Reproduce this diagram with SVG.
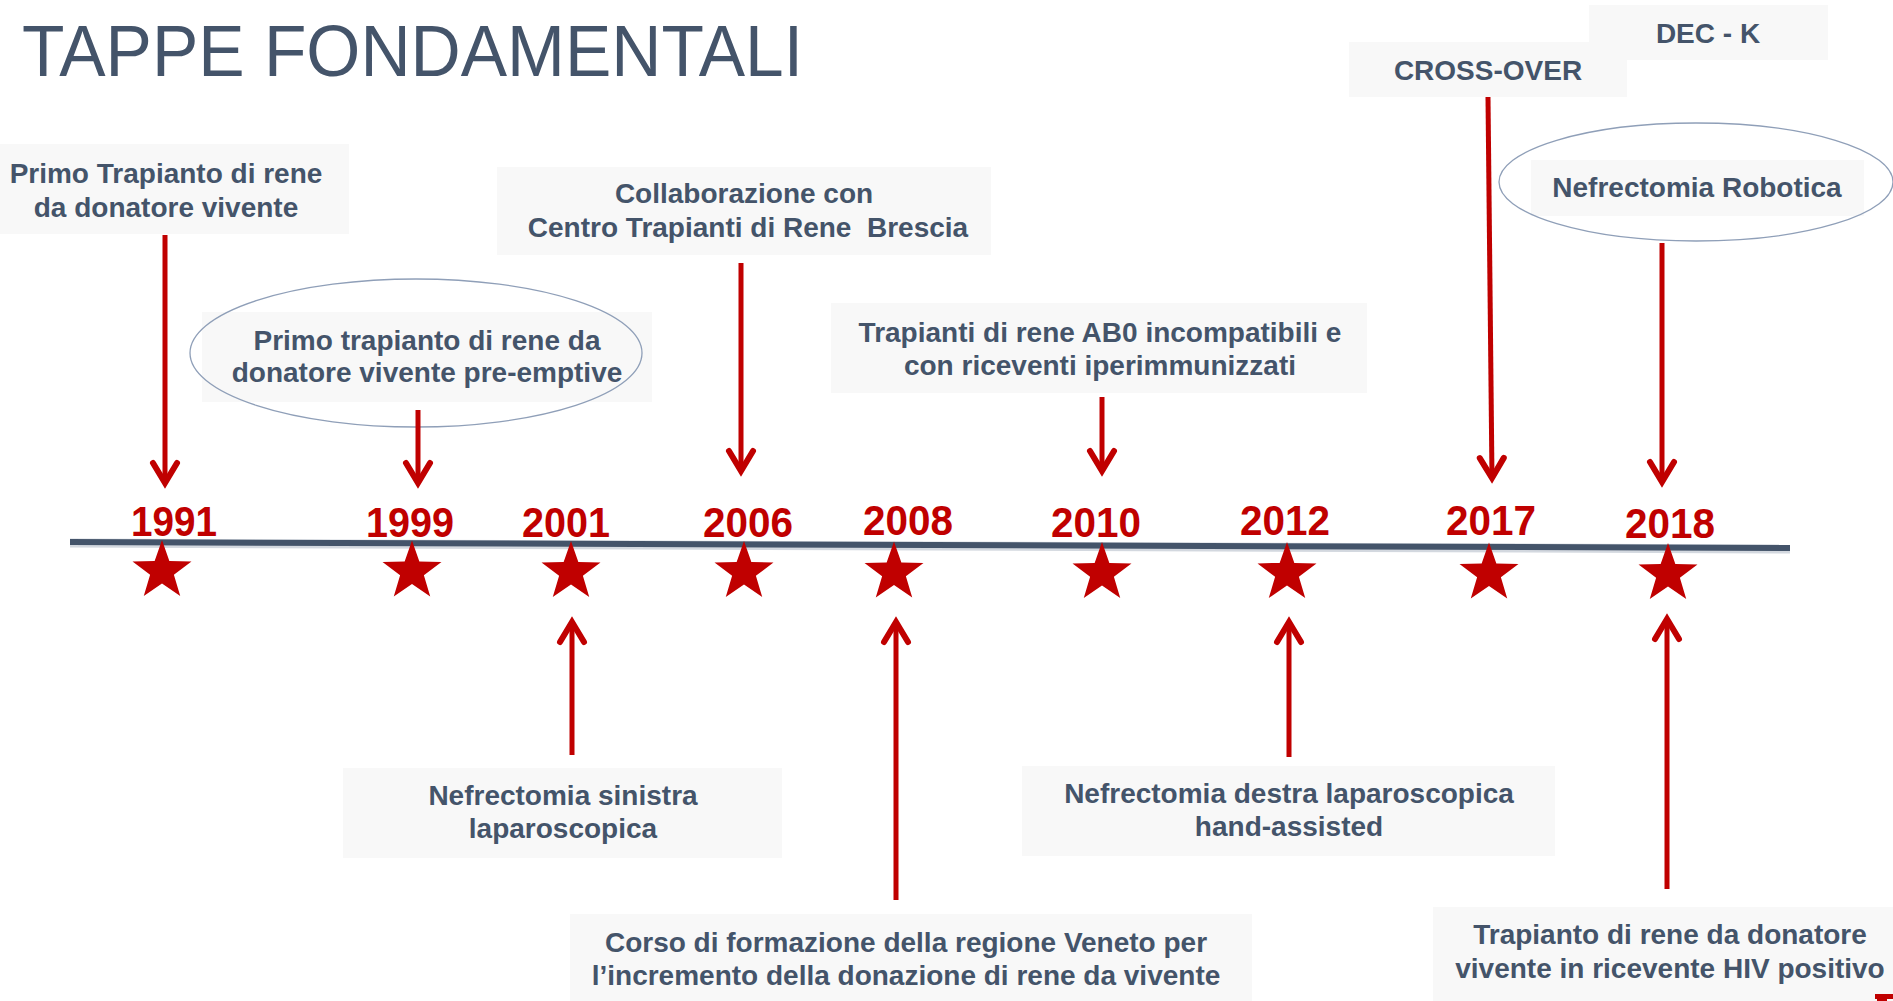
<svg xmlns="http://www.w3.org/2000/svg" xmlns:xlink="http://www.w3.org/1999/xlink" width="1893" height="1001" viewBox="0 0 1893 1001">
<style>
.box{fill:#f8f8f8;}
.lbl{font-family:"Liberation Sans",Arial,sans-serif;font-weight:bold;font-size:28px;fill:#44546a;text-anchor:middle;}
.yr{font-family:"Liberation Sans",Arial,sans-serif;font-weight:bold;font-size:42px;fill:#c00000;text-anchor:middle;}
.oval{fill:none;stroke:#8f9fb8;stroke-width:1.3;}
.arr{fill:none;stroke:#c00000;stroke-width:5;marker-end:url(#ah);}
.star{fill:#c00000;}
</style>
<defs>
<marker id="ah" markerUnits="userSpaceOnUse" orient="auto" refX="0" refY="0" markerWidth="40" markerHeight="40" viewBox="-30 -20 40 40" overflow="visible">
<path d="M-20,-12 L0,0 L-20,12" fill="none" stroke="#c00000" stroke-width="6" stroke-linecap="round" stroke-linejoin="miter"/>
</marker>
<path id="star" d="M0,-31 L7.35,-10.11 L29.48,-9.58 L11.89,3.86 L18.22,25.08 L0,12.5 L-18.22,25.08 L-11.89,3.86 L-29.48,-9.58 L-7.35,-10.11 Z"/>
</defs>
<rect width="1893" height="1001" fill="#ffffff"/>
<text id="title" x="22" y="76" font-family="Liberation Sans, Arial, sans-serif" font-size="72" fill="#44546a" textLength="781" lengthAdjust="spacingAndGlyphs">TAPPE FONDAMENTALI</text>

<g id="timeline">
<line x1="70" y1="543" x2="1790" y2="549" stroke="#d3d8df" stroke-width="9"/>
<line x1="70" y1="542" x2="1790" y2="548" stroke="#44546a" stroke-width="6"/>
</g>

<g id="y1991"><text class="yr" x="174" y="536" textLength="86" lengthAdjust="spacingAndGlyphs">1991</text><use xlink:href="#star" class="star" transform="translate(162,571)"/></g>
<g id="y1999"><text class="yr" x="410" y="537" textLength="88" lengthAdjust="spacingAndGlyphs">1999</text><use xlink:href="#star" class="star" transform="translate(412,571.5)"/></g>
<g id="y2001"><text class="yr" x="566" y="537" textLength="88" lengthAdjust="spacingAndGlyphs">2001</text><use xlink:href="#star" class="star" transform="translate(571,572)"/></g>
<g id="y2006"><text class="yr" x="748" y="537" textLength="90" lengthAdjust="spacingAndGlyphs">2006</text><use xlink:href="#star" class="star" transform="translate(744,572)"/></g>
<g id="y2008"><text class="yr" x="908" y="535" textLength="90" lengthAdjust="spacingAndGlyphs">2008</text><use xlink:href="#star" class="star" transform="translate(894,572.5)"/></g>
<g id="y2010"><text class="yr" x="1096" y="537" textLength="90" lengthAdjust="spacingAndGlyphs">2010</text><use xlink:href="#star" class="star" transform="translate(1102,573)"/></g>
<g id="y2012"><text class="yr" x="1285" y="535" textLength="90" lengthAdjust="spacingAndGlyphs">2012</text><use xlink:href="#star" class="star" transform="translate(1287,573)"/></g>
<g id="y2017"><text class="yr" x="1491" y="535" textLength="90" lengthAdjust="spacingAndGlyphs">2017</text><use xlink:href="#star" class="star" transform="translate(1489,573.5)"/></g>
<g id="y2018"><text class="yr" x="1670" y="538" textLength="90" lengthAdjust="spacingAndGlyphs">2018</text><use xlink:href="#star" class="star" transform="translate(1668,574)"/></g>

<g id="n1991">
<rect class="box" x="0" y="144" width="349" height="90"/>
<text class="lbl" x="166" y="183">Primo Trapianto di rene</text>
<text class="lbl" x="166" y="217">da donatore vivente</text>
</g>
<g id="n2006">
<rect class="box" x="497" y="167" width="494" height="88"/>
<text class="lbl" x="744" y="203">Collaborazione con</text>
<text class="lbl" x="748" y="237" xml:space="preserve">Centro Trapianti di Rene  Brescia</text>
</g>
<g id="n1999">
<rect class="box" x="202" y="312" width="450" height="90"/>
<text class="lbl" x="427" y="350">Primo trapianto di rene da</text>
<text class="lbl" x="427" y="382">donatore vivente pre-emptive</text>
<ellipse class="oval" cx="416" cy="353" rx="226" ry="74"/>
</g>
<g id="n2010">
<rect class="box" x="831" y="303" width="536" height="90"/>
<text class="lbl" x="1100" y="342">Trapianti di rene AB0 incompatibili e</text>
<text class="lbl" x="1100" y="375">con riceventi iperimmunizzati</text>
</g>
<g id="n2017">
<rect class="box" x="1349" y="42" width="278" height="55"/>
<text class="lbl" x="1488" y="80">CROSS-OVER</text>
</g>
<g id="n2017b">
<rect class="box" x="1589" y="5" width="239" height="55"/>
<text class="lbl" x="1708" y="43">DEC - K</text>
</g>
<g id="n2018">
<rect class="box" x="1531" y="160" width="333" height="56"/>
<text class="lbl" x="1697" y="197">Nefrectomia Robotica</text>
<ellipse class="oval" cx="1696" cy="182" rx="197" ry="59"/>
</g>
<g id="n2001">
<rect class="box" x="343" y="768" width="439" height="90"/>
<text class="lbl" x="563" y="805">Nefrectomia sinistra</text>
<text class="lbl" x="563" y="838">laparoscopica</text>
</g>
<g id="n2012">
<rect class="box" x="1022" y="766" width="533" height="90"/>
<text class="lbl" x="1289" y="803">Nefrectomia destra laparoscopica</text>
<text class="lbl" x="1289" y="836">hand-assisted</text>
</g>
<g id="n2008">
<rect class="box" x="570" y="914" width="682" height="90"/>
<text class="lbl" x="906" y="952">Corso di formazione della regione Veneto per</text>
<text class="lbl" x="906" y="985">l’incremento della donazione di rene da vivente</text>
</g>
<g id="n2018b">
<rect class="box" x="1433" y="907" width="460" height="94"/>
<text class="lbl" x="1670" y="944">Trapianto di rene da donatore</text>
<text class="lbl" x="1670" y="978">vivente in ricevente HIV positivo</text>
</g>

<g id="connectors">
<line class="arr" x1="165" y1="235" x2="165" y2="483"/>
<line class="arr" x1="418" y1="410" x2="418" y2="483"/>
<line class="arr" x1="741" y1="263" x2="741" y2="471"/>
<line class="arr" x1="1102" y1="397" x2="1102" y2="471"/>
<line class="arr" x1="1488" y1="97" x2="1492" y2="478"/>
<line class="arr" x1="1662" y1="243" x2="1662" y2="482"/>
<line class="arr" x1="572" y1="755" x2="572" y2="622"/>
<line class="arr" x1="896" y1="900" x2="896" y2="622"/>
<line class="arr" x1="1289" y1="757" x2="1289" y2="622"/>
<line class="arr" x1="1667" y1="889" x2="1667" y2="619"/>
</g>

<g id="corner">
<rect x="1875" y="994" width="18" height="5" fill="#c00000"/>
<rect x="1877" y="994" width="10" height="7" fill="#c00000"/>
</g>
</svg>
